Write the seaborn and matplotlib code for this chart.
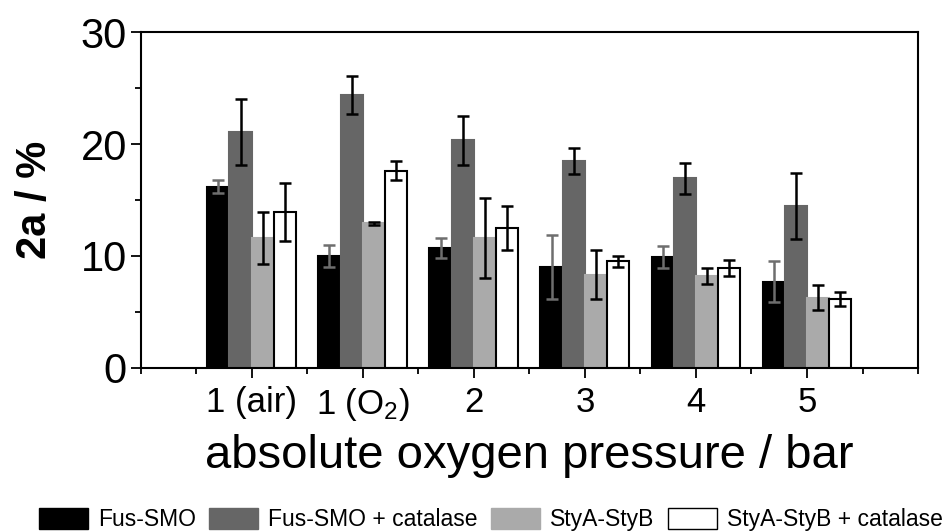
import seaborn as sns
import matplotlib.pyplot as plt
import pandas as pd
from matplotlib.ticker import MultipleLocator

# pressures (x categories) and the four enzyme systems
pressures = ['1 (air)', '1 (O$_2$)', '2', '3', '4', '5']
systems = ['Fus-SMO', 'Fus-SMO + catalase', 'StyA-StyB', 'StyA-StyB + catalase']

# yield of 2a in % and the error bars
fus_smo = [16.2, 10.0, 10.7, 9.0, 9.9, 7.7]
fus_smo_err = [0.6, 0.95, 0.9, 2.9, 1.0, 1.85]
fus_smo_cat = [21.1, 24.4, 20.35, 18.5, 16.95, 14.5]
fus_smo_cat_err = [2.95, 1.7, 2.2, 1.2, 1.4, 2.95]
stya_styb = [11.6, 12.9, 11.6, 8.3, 8.2, 6.25]
stya_styb_err = [2.3, 0.15, 3.55, 2.2, 0.7, 1.1]
stya_styb_cat = [13.9, 17.6, 12.5, 9.5, 8.9, 6.15]
stya_styb_cat_err = [2.6, 0.85, 2.0, 0.5, 0.72, 0.6]

values = [fus_smo, fus_smo_cat, stya_styb, stya_styb_cat]
errors = [fus_smo_err, fus_smo_cat_err, stya_styb_err, stya_styb_cat_err]
colors = ['#000000', '#666666', '#aaaaaa', '#ffffff']
err_colors = ['#6e6e6e', '#000000', '#000000', '#000000']

rows = []
for name, vals in zip(systems, values):
    for p, v in zip(pressures, vals):
        rows.append({'pressure': p, 'system': name, 'value': v})
df = pd.DataFrame(rows)

sns.set_style('ticks')
plt.rcParams['font.family'] = ['Liberation Sans', 'DejaVu Sans']
plt.rcParams['mathtext.fontset'] = 'custom'
plt.rcParams['mathtext.rm'] = 'Liberation Sans'
plt.rcParams['mathtext.it'] = 'Liberation Sans:italic'
for key in ['text.color', 'axes.labelcolor', 'xtick.color', 'ytick.color',
            'axes.edgecolor']:
    plt.rcParams[key] = 'black'

fig = plt.figure(figsize=(9.44, 5.32), dpi=100)
ax = fig.add_axes([0.149, 0.309, 0.8235, 0.63])

sns.barplot(data=df, x='pressure', y='value', hue='system', order=pressures,
            hue_order=systems, palette=colors, width=0.8, errorbar=None,
            saturation=1, ax=ax, legend=False)

# edges and error bars, one container per system
for cont, col, errs, ecol in zip(ax.containers, colors, errors, err_colors):
    xs = []
    hs = []
    for bar in cont:
        bar.set_edgecolor('black' if col == '#ffffff' else col)
        bar.set_linewidth(1.5)
        xs.append(bar.get_x() + bar.get_width() / 2)
        hs.append(bar.get_height())
    ax.errorbar(xs, hs, yerr=errs, fmt='none', ecolor=ecol, elinewidth=1.8,
                capsize=4.5, capthick=1.8, zorder=5)

ax.set_xlim(-1, 6)
ax.set_ylim(0, 30)
ax.set_xticks(range(len(pressures)))
ax.set_xticklabels(pressures, fontsize=25)
ax.xaxis.set_minor_locator(MultipleLocator(0.5))
ax.yaxis.set_major_locator(MultipleLocator(10))
ax.yaxis.set_minor_locator(MultipleLocator(5))
ax.tick_params(axis='y', labelsize=30, pad=3)
ax.tick_params(axis='x', pad=6)
ax.tick_params(which='major', length=7, width=1.3, direction='out')
ax.tick_params(which='minor', length=4, width=1.3, direction='out')
ax.tick_params(top=False, right=False)
for s in ax.spines.values():
    s.set_linewidth(1.5)
    s.set_visible(True)

ax.set_xlabel('absolute oxygen pressure / bar', fontsize=34, labelpad=8)
ax.set_ylabel('2a / %', fontsize=30, fontweight='bold', labelpad=18)

handles = [plt.Rectangle((0, 0), 1, 1, facecolor=c,
                         edgecolor='black' if c == '#ffffff' else c)
           for c in colors]
fig.legend(handles, systems, loc='lower center', bbox_to_anchor=(0.52, -0.02),
           ncol=4, frameon=False, fontsize=16.5, handlelength=2.14,
           handleheight=1.05, handletextpad=0.44, columnspacing=0.57,
           borderpad=0)

plt.savefig('out.png', dpi=100)
